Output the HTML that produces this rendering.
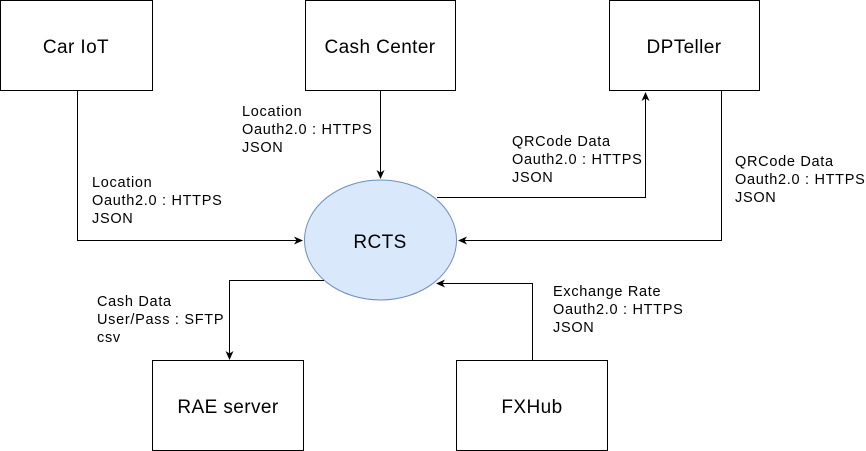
<!DOCTYPE html>
<html><head><style>body{margin:0;background:#fff}svg{display:block}text{font-family:"Liberation Sans",sans-serif;fill:#000}</style></head><body>
<svg width="866" height="451" viewBox="0 0 866 451" xmlns="http://www.w3.org/2000/svg">
<defs><marker id="a" markerWidth="10" markerHeight="10" refX="8" refY="5" orient="auto" markerUnits="userSpaceOnUse"><path d="M0,1 L9,5 L0,9 L2.5,5 Z" fill="#000"/></marker></defs>
<g fill="#fff" stroke="#000" stroke-width="1">
<rect x="0.5" y="0.5" width="152" height="90"/>
<rect x="305.5" y="0.5" width="150" height="90"/>
<rect x="609.5" y="0.5" width="150" height="90"/>
<rect x="152.5" y="360.5" width="151" height="90"/>
<rect x="456.5" y="360.5" width="151" height="90"/>
</g>
<ellipse cx="380.5" cy="240" rx="76" ry="60" fill="#dae8fc" stroke="#6c8ebf"/>
<g fill="none" stroke="#000" stroke-width="1">
<path d="M77.5 91 V240.5 H302" marker-end="url(#a)"/>
<path d="M380.5 91 V178" marker-end="url(#a)"/>
<path d="M437 197.5 H645.5 V93" marker-end="url(#a)"/>
<path d="M721.5 91 V240.5 H459" marker-end="url(#a)"/>
<path d="M324 280.5 H229.5 V359" marker-end="url(#a)"/>
<path d="M532.5 360 V283.5 H437" marker-end="url(#a)"/>
</g>
<g font-size="19" text-anchor="middle" letter-spacing="0.4">
<text x="76" y="53">Car IoT</text>
<text x="380" y="53">Cash Center</text>
<text x="684" y="53">DPTeller</text>
<text x="228" y="413">RAE server</text>
<text x="532" y="413">FXHub</text>
<text x="380" y="248">RCTS</text>
</g>
<g font-size="14.5" letter-spacing="0.7">
<text x="92" y="187">Location</text><text x="92" y="205">Oauth2.0 : HTTPS</text><text x="92" y="223">JSON</text>
<text x="242" y="116">Location</text><text x="242" y="134">Oauth2.0 : HTTPS</text><text x="242" y="152">JSON</text>
<text x="512" y="146">QRCode Data</text><text x="512" y="164">Oauth2.0 : HTTPS</text><text x="512" y="182">JSON</text>
<text x="735" y="166">QRCode Data</text><text x="735" y="184">Oauth2.0 : HTTPS</text><text x="735" y="202">JSON</text>
<text x="97" y="306">Cash Data</text><text x="97" y="324">User/Pass : SFTP</text><text x="97" y="342">csv</text>
<text x="553" y="296">Exchange Rate</text><text x="553" y="314">Oauth2.0 : HTTPS</text><text x="553" y="332">JSON</text>
</g>
</svg>
</body></html>
